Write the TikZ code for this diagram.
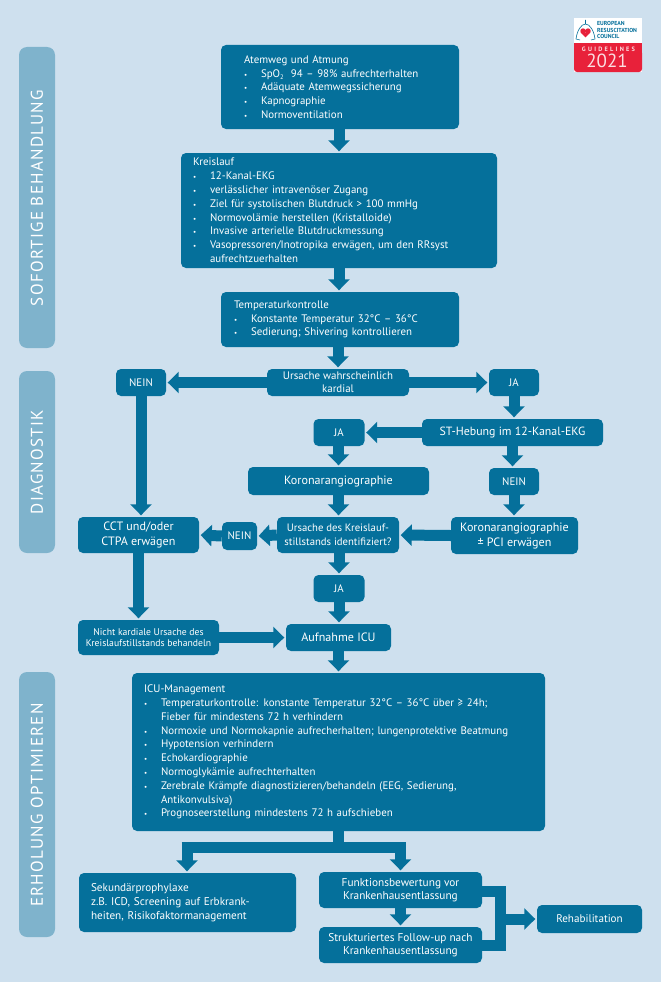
\documentclass[tikz,border=0pt]{standalone}
\usepackage{fontspec}
\setmainfont{PT Sans}
\newfontfamily\tabfont[LetterSpace=7.5]{PT Sans}
\newfontfamily\logofont[LetterSpace=36]{PT Sans}
\usetikzlibrary{arrows.meta}
\definecolor{bgc}{HTML}{CEE0EE}
\definecolor{boxc}{HTML}{05709B}
\definecolor{tabc}{HTML}{7FB3CC}
\definecolor{redc}{HTML}{E8213A}
\newcommand\fs[2]{\fontsize{#1}{#2}\selectfont}
\newcommand\bl[1]{\makebox[17pt][l]{{\fontsize{7}{7}\selectfont •}}#1}
\newcommand\blc[1]{\makebox[17pt][l]{}#1}
\tikzset{
  x=1pt,y=-1pt,
  flow/.style={fill=boxc,rounded corners=5pt,text=white,inner sep=0pt,align=center,font=\fs{10.9}{13.8}},
  big/.style={font=\fs{12.1}{15}},
  dim/.style 2 args={minimum width=#1pt,minimum height=#2pt},
  listbox/.style n args={3}{flow,dim={#1}{#2},text width=#1pt-2*#3pt,align=left},
  tabbox/.style={fill=tabc,rounded corners=8pt,minimum width=36pt,inner sep=0pt},
  tabtext/.style={text=white,rotate=90,font=\tabfont\fontsize{17}{17}\selectfont,inner sep=0pt},
  arr/.style={draw=boxc,line width=11pt,-{Triangle[length=11pt,width=21pt]},shorten >=1.5pt},
  bar/.style={draw=boxc,line width=11pt,line join=miter},
}
\begin{document}
\begin{tikzpicture}
\useasboundingbox[fill=bgc] (0,0) rectangle (661,982);
% section tabs
\node[tabbox,minimum height=301pt] (t1) at (37,197.5) {};
\node[tabtext] (t1t) at (37,198) {SOFORTIGE BEHANDLUNG};
\node[tabbox,minimum height=182pt] (t2) at (37,462) {};
\node[tabtext] (t2t) at (37,462) {DIAGNOSTIK};
\node[tabbox,minimum height=265pt] (t3) at (37,804.5) {};
\node[tabtext] (t3t) at (37,805) {ERHOLUNG OPTIMIEREN};
% boxes
\node[listbox={238}{84}{23}] (a) at (340,87) {Atemweg und Atmung\\
\bl{SpO\raisebox{-2pt}{\fontsize{6.5}{6.5}\selectfont 2}\ \ 94 – 98\% aufrechterhalten}\\
\bl{Adäquate Atemwegssicherung}\\
\bl{Kapnographie}\\
\bl{Normoventilation}};
\node[listbox={316}{115}{12}] (b) at (339,210.5) {Kreislauf\\
\bl{12-Kanal-EKG}\\
\bl{verlässlicher intravenöser Zugang}\\
\bl{Ziel für systolischen Blutdruck > 100 mmHg}\\
\bl{Normovolämie herstellen (Kristalloide)}\\
\bl{Invasive arterielle Blutdruckmessung}\\
\bl{Vasopressoren/Inotropika erwägen, um den RRsyst}\\
\blc{aufrechtzuerhalten}};
\node[listbox={238}{55}{13}] (c) at (340,319.5) {Temperaturkontrolle\\
\bl{Konstante Temperatur 32°C – 36°C}\\
\bl{Sedierung; Shivering kontrollieren}};
\node[flow,dim={142}{27},font=\fs{10.9}{13}] (u1) at (338,382.5) {Ursache wahrscheinlich\\kardial};
\node[flow,dim={50}{27}] (n1) at (141,382.5) {NEIN};
\node[flow,dim={50}{27}] (j1) at (514,382.5) {JA};
\node[flow,big,font=\fs{11.9}{15},dim={181}{27}] (st) at (512.5,432.5) {ST-Hebung im 12-Kanal-EKG};
\node[flow,dim={51}{27}] (j2) at (339,432.5) {JA};
\node[flow,big,dim={181}{28}] (k1) at (338.5,481) {Koronarangiographie};
\node[flow,dim={50}{27}] (n2) at (514,481.5) {NEIN};
\node[flow,dim={122}{36},font=\fs{10.7}{13.7}] (u2) at (338,535) {Ursache des Kreislauf-\\stillstands identifiziert?};
\node[flow,big,dim={127}{37}] (k2) at (514.5,535.5) {Koronarangiographie\\± PCI erwägen};
\node[flow,dim={35}{28}] (n3) at (239.5,536) {NEIN};
\node[flow,big,dim={121}{36}] (cct) at (138.5,535) {CCT und/oder\\CTPA erwägen};
\node[flow,dim={51}{27}] (j3) at (339,588.5) {JA};
\node[flow,dim={141}{35},font=\fs{9.7}{11.5}] (ni) at (148.5,637.5) {Nicht kardiale Ursache des\\Kreislaufstillstands behandeln};
\node[flow,big,dim={105}{27}] (au) at (338.5,637.5) {Aufnahme ICU};
\node[listbox={413}{158}{12}] (icu) at (338.5,752) {ICU-Management\\
\bl{Temperaturkontrolle: konstante Temperatur 32°C – 36°C über ≥ 24h;}\\
\blc{Fieber für mindestens 72 h verhindern}\\
\bl{Normoxie und Normokapnie aufrecherhalten; lungenprotektive Beatmung}\\
\bl{Hypotension verhindern}\\
\bl{Echokardiographie}\\
\bl{Normoglykämie aufrechterhalten}\\
\bl{Zerebrale Krämpfe diagnostizieren/behandeln (EEG, Sedierung,}\\
\blc{Antikonvulsiva)}\\
\bl{Prognoseerstellung mindestens 72 h aufschieben}};
\node[listbox={217}{59}{12},font=\fs{11.2}{13.7}] (se) at (187.5,902.5) {Sekundärprophylaxe\\z.B. ICD, Screening auf Erbkrank-\\heiten, Risikofaktormanagement};
\node[flow,dim={163}{36},font=\fs{11.3}{13.5}] (fu) at (400.5,890) {Funktionsbewertung vor\\Krankenhausentlassung};
\node[flow,dim={163}{36},font=\fs{11.3}{13.5}] (sf) at (400.5,945) {Strukturiertes Follow-up nach\\Krankenhausentlassung};
\node[flow,dim={105}{28},font=\fs{11.1}{13.5}] (re) at (589.5,919) {Rehabilitation};
% connectors
\draw[arr] (a.south -| b.south) -- (b.north);
\draw[arr] (b.south) -- (b.south |- c.north);
\draw[arr] (c.south -| u1.north) -- (u1.north);
\draw[arr] (u1.west) -- (n1.east);
\draw[arr] (u1.east) -- (j1.west);
\draw[arr] (j1.south) -- (j1.south |- st.north);
\draw[arr] (st.west) -- (j2.east);
\draw[arr] (st.south) -- (st.south |- n2.north);
\draw[arr] (n2.south) -- (n2.south |- k2.north);
\draw[arr] (j2.south -| k1.north) -- (k1.north);
\draw[arr] (k1.south) -- (k1.south |- u2.north);
\draw[arr] (k2.west) -- (u2.east);
\draw[arr] (u2.west) -- (n3.east);
\draw[arr] (n3.west) -- (cct.east);
\draw[arr] (n1.south) -- (n1.south |- cct.north);
\draw[arr] (cct.south) -- (cct.south |- ni.north);
\draw[arr] (u2.south -| j3.north) -- (j3.north);
\draw[arr] (j3.south) -- (j3.south |- au.north);
\draw[arr] (ni.east) -- (au.west);
\draw[arr] (au.south) -- (au.south |- icu.north);
\coordinate (split) at (338.5,847.5);
\coordinate (sl) at (187,847.5);
\coordinate (sr) at (400.5,847.5);
\draw[bar] (icu.south) -- (split);
\draw[arr] (sr) -- (sr |- fu.north);
\draw[arr] (sl) -- (sl |- se.north);
\draw[bar] ([xshift=-5.5pt]sl) -- ([xshift=5.5pt]sr);
\draw[arr] (fu.south) -- (sf.north);
\coordinate (jr) at (500.5,919);
\draw[bar] (fu.east |- 0,891.5) -| (jr |- 0,945.5) -- (sf.east |- 0,945.5);
\draw[arr] (jr) -- (re.west);
% logo
\fill[white] (574,18) rectangle (642,72);
\fill[redc,rounded corners=3pt] (574,50) -- (574,72) -- (642,72) -- (642,50) -- cycle;
\fill[redc] (574,43) rectangle (642,55);
\draw[boxc,line width=.6pt,line join=round] (585.5,20) -- (585.5,24)
  (585.5,24) .. controls (581,24) and (577,31) .. (576,39) -- (580,40)
  (585.5,24) .. controls (590,24) and (594,31) .. (595,39) -- (591,40);
\fill[redc] (583,31) circle (2.7pt) (588,31) circle (2.7pt);
\fill[redc] (580.5,32.3) -- (590.5,32.3) -- (585.5,37.5) -- cycle;
\node[text=boxc,font=\bfseries\fontsize{5.8}{6.2}\selectfont,align=left,anchor=west,inner sep=0pt] (lt) at (597,30) {EUROPEAN\\RESUSCITATION\\COUNCIL};
\node[text=white!85!redc,font=\bfseries\logofont\fontsize{6.3}{6.5}\selectfont,inner sep=0pt] (lg) at (608.5,49) {GUIDELINES};
\node[text=white!85!redc,font=\fontsize{19}{19}\selectfont,inner sep=0pt] (ly) at (607,61) {2021};
\end{tikzpicture}
\end{document}
